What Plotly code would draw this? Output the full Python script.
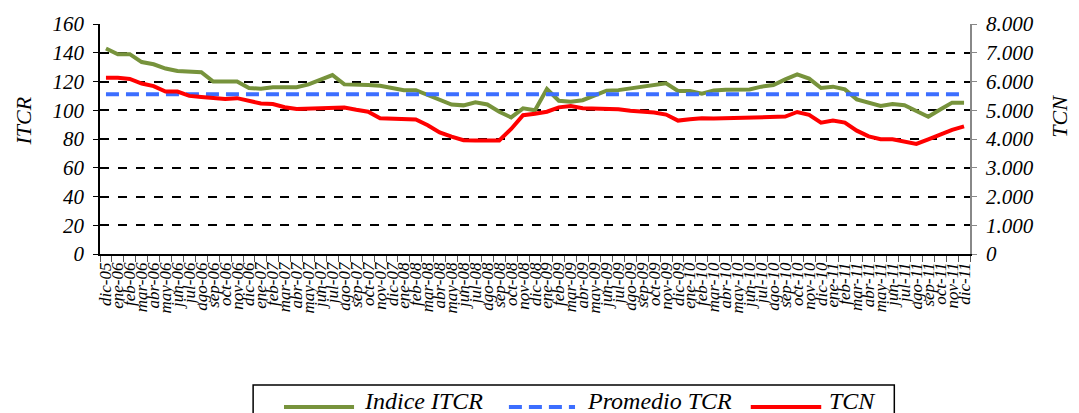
import plotly.graph_objects as go

meses = ["ene", "feb", "mar", "abr", "may", "jun", "jul", "ago", "sep", "oct", "nov", "dic"]
periodos = ["dic-05"] + [f"{m}-{a:02d}" for a in range(6, 12) for m in meses]

itcr = [143, 139, 139, 133.5, 132, 129, 127.3, 127, 126.5, 120,
        120, 120, 115.5, 115, 116, 116, 116, 118, 121, 124.5,
        118, 118, 117.5, 117, 115.5, 114, 114, 110.6, 107, 104,
        103.4, 105.5, 104, 99, 95, 101.3, 100, 114.8, 106.6, 106,
        107, 110.5, 113.6, 114, 115.3, 116, 117.6, 118.7, 113.4, 113.4,
        111.5, 113.8, 114.2, 114.4, 114.5, 116.4, 117.6, 121.5, 125, 122,
        115.5, 116.4, 114.5, 107.6, 105, 103, 104.3, 103.5, 99.5, 95.5,
        100.5, 105.3, 105.3]

promedio_tcr = [111.1] * len(periodos)

tcn = [6130, 6130, 6090, 5930, 5840, 5650, 5650, 5500, 5460, 5425,
       5390, 5420, 5335, 5235, 5215, 5105, 5045, 5055, 5090, 5110,
       5095, 5015, 4950, 4720, 4715, 4700, 4680, 4480, 4230, 4080,
       3960, 3945, 3945, 3950, 4350, 4830, 4880, 4950, 5100, 5145,
       5070, 5060, 5055, 5035, 4980, 4950, 4925, 4850, 4640, 4690,
       4720, 4710, 4720, 4740, 4755, 4765, 4770, 4780, 4940, 4840,
       4570, 4640, 4570, 4290, 4090, 3990, 3990, 3910, 3830, 3990,
       4160, 4320, 4440]

verde = "rgb(119,147,60)"
azul = "rgb(60,110,255)"
rojo = "rgb(255,0,0)"
fuente = "Liberation Serif"

fig = go.Figure()
fig.add_trace(go.Scatter(x=periodos, y=itcr, mode="lines", name="Indice ITCR",
                         line=dict(color=verde, width=4)))
fig.add_trace(go.Scatter(x=periodos, y=promedio_tcr, mode="lines", name="Promedio TCR",
                         line=dict(color=azul, width=4, dash="13px,7px")))
fig.add_trace(go.Scatter(x=periodos, y=tcn, mode="lines", name="TCN", yaxis="y2",
                         line=dict(color=rojo, width=4)))

# page body has an 8px margin, so the figure is 8px smaller than the window
fig.update_layout(
    width=1071, height=405,
    margin=dict(l=92, r=109, t=16, b=159),
    paper_bgcolor="white", plot_bgcolor="white",
    font=dict(family=fuente, style="italic", size=21, color="black"),
    separators=",.",
    showlegend=False,
    xaxis=dict(
        type="category", range=[-0.5, len(periodos) - 0.5],
        tickmode="array", tickvals=periodos, ticktext=periodos,
        tickangle=-90, tickfont=dict(size=17),
        tickson="boundaries", ticks="outside", ticklen=6, tickcolor="#555",
        showline=True, linecolor="black", linewidth=1.5,
        showgrid=False, automargin=False,
    ),
    yaxis=dict(
        range=[0, 160], tickvals=list(range(0, 161, 20)),
        showline=True, linecolor="black", linewidth=1.5,
        ticks="outside", ticklen=5, tickcolor="black", ticklabelstandoff=5,
        showgrid=True, gridcolor="black", gridwidth=1.5, griddash="dash",
        zeroline=False, automargin=False,
    ),
    yaxis2=dict(
        range=[0, 8000], tickvals=list(range(0, 8001, 1000)), tickformat=",d",
        overlaying="y", side="right",
        showline=True, linecolor="#888", linewidth=1.5,
        ticks="outside", ticklen=5, tickcolor="#888", ticklabelstandoff=5,
        showgrid=False, zeroline=False, automargin=False,
    ),
)

# axis titles
fig.add_annotation(text="ITCR", xref="paper", yref="paper", x=-0.088, y=0.578,
                   xanchor="center", yanchor="middle",
                   textangle=-90, showarrow=False, font=dict(size=22))
fig.add_annotation(text="TCN", xref="paper", yref="paper", x=1.102, y=0.60,
                   xanchor="center", yanchor="middle",
                   textangle=-90, showarrow=False, font=dict(size=22))

# legend box drawn by hand to get the long line samples
fig.add_shape(type="rect", xref="paper", yref="paper", x0=0.176, x1=0.913, y0=-0.57, y1=-0.75,
              line=dict(color="black", width=1.5), fillcolor="white")
leyenda = [("Indice ITCR", verde, "solid", 0.2115, 0.292, 0.301),
           ("Promedio TCR", azul, "13px,7px", 0.470, 0.546, 0.557),
           ("TCN", rojo, "solid", 0.748, 0.829, 0.836)]
for texto, color, estilo, x0, x1, xt in leyenda:
    fig.add_shape(type="line", xref="paper", yref="paper", x0=x0, x1=x1, y0=-0.665, y1=-0.665,
                  line=dict(color=color, width=4, dash=estilo))
    fig.add_annotation(text=texto, xref="paper", yref="paper", x=xt, y=-0.64,
                       xanchor="left", yanchor="middle", showarrow=False, font=dict(size=24))

fig.write_html("out.html")
